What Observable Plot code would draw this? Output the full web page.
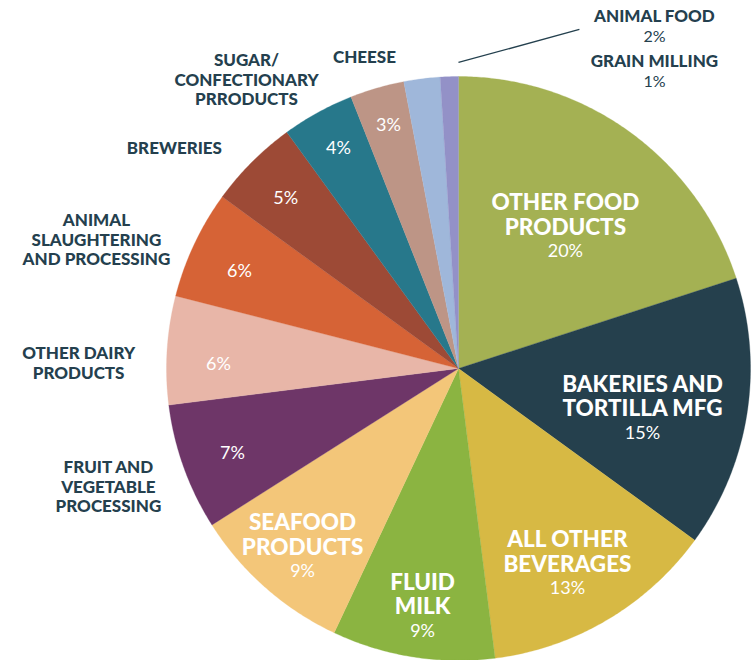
<!DOCTYPE html>
<html>
<head>
<meta charset="utf-8">
<script src="https://cdn.jsdelivr.net/npm/d3@7"></script>
<script src="https://cdn.jsdelivr.net/npm/@observablehq/plot@0.6"></script>
<style>
  html, body { margin: 0; padding: 0; background: #ffffff; }
  #chart svg { display: block; }
</style>
</head>
<body>
<div id="chart"></div>
<script>
// ---- data ----
const categories = [
  "Other Food Products", "Bakeries and Tortilla MFG", "All Other Beverages",
  "Fluid Milk", "Seafood Products", "Fruit and Vegetable Processing",
  "Other Dairy Products", "Animal Slaughtering and Processing", "Breweries",
  "Sugar/Confectionary Prroducts", "Cheese", "Animal Food", "Grain Milling"
];
const shares = [20, 15, 13, 9, 9, 7, 6, 6, 5, 4, 3, 2, 1];
const displayNames = [
  "OTHER FOOD\nPRODUCTS", "BAKERIES AND\nTORTILLA MFG", "ALL OTHER\nBEVERAGES",
  "FLUID\nMILK", "SEAFOOD\nPRODUCTS", "FRUIT AND\nVEGETABLE\nPROCESSING",
  "OTHER DAIRY\nPRODUCTS", "ANIMAL\nSLAUGHTERING\nAND PROCESSING", "BREWERIES",
  "SUGAR/\nCONFECTIONARY\nPRRODUCTS", "CHEESE", "ANIMAL FOOD", "GRAIN MILLING"
];
const colors = [
  "#a4b153", "#25404d", "#d7b944", "#8bb441", "#f3c679", "#6e3668",
  "#e8b6a8", "#d66336", "#9d4a36", "#27788b", "#bd9586", "#9fb7da", "#9391c7"
];

// ---- layout (in pie-radius units, centre = 0,0) ----
const pctPos = [
  [0.366, 0.404], [0.630, -0.219], [0.373, -0.750], [-0.123, -0.897],
  [-0.534, -0.692], [-0.774, -0.288], [-0.822, 0.017], [-0.750, 0.336],
  [-0.592, 0.586], [-0.411, 0.757], [-0.240, 0.836], [0.671, 1.137], [0.671, 0.983]
];
const outerNamePos = {
  5: [-1.199, -0.404], 6: [-1.301, 0.019], 7: [-1.240, 0.442], 8: [-0.973, 0.757],
  9: [-0.726, 0.990], 10: [-0.322, 1.068], 11: [0.671, 1.207], 12: [0.671, 1.053]
};
const leader = [[0.0, 1.048], [0.414, 1.161]];

// ---- slices via d3.pie (clockwise from 12 o'clock) ----
const arcs = d3.pie().sort(null).value(d => d)(shares);
const slicePts = [];
arcs.forEach((a, i) => {
  const name = categories[i];
  slicePts.push({name, x: 0, y: 0});
  const n = Math.max(4, Math.ceil((a.endAngle - a.startAngle) / (Math.PI / 360)));
  for (let k = 0; k <= n; k++) {
    const t = a.startAngle + (a.endAngle - a.startAngle) * k / n;
    slicePts.push({name, x: Math.sin(t), y: Math.cos(t)});
  }
  slicePts.push({name, x: 0, y: 0});
});

const pctRows = shares.map((s, i) => ({
  i, label: s + "%", x: pctPos[i][0], y: pctPos[i][1], outside: i >= 11
}));
const innerNames = displayNames.slice(0, 5).map((t, i) => ({t, x: pctPos[i][0], y: pctPos[i][1]}));
const outerNames = Object.entries(outerNamePos).map(([i, p]) => ({t: displayNames[+i], x: p[0], y: p[1]}));

const dark = "#24404e";
const chart = Plot.plot({
  width: 751,
  height: 660,
  margin: 0,
  x: {domain: [-458 / 292, 293 / 292], axis: null},
  y: {domain: [-1, 368 / 292], axis: null},
  color: {domain: categories, range: colors},
  style: {fontFamily: "Lato, sans-serif", background: "#ffffff"},
  marks: [
    Plot.line(slicePts, {x: "x", y: "y", z: "name", fill: "name", stroke: "name", strokeWidth: 0.3}),
    Plot.link([leader], {x1: d => d[0][0], y1: d => d[0][1], x2: d => d[1][0], y2: d => d[1][1], stroke: dark, strokeWidth: 1.3}),
    Plot.text(innerNames, {x: "x", y: "y", text: "t", fill: "white", fontSize: 22.5, fontWeight: 900,
      lineAnchor: "bottom", lineHeight: 1.1, dy: -16, textAnchor: "middle"}),
    Plot.text(pctRows.filter(d => !d.outside), {x: "x", y: "y", text: "label", fill: "white", fontSize: 18,
      fontWeight: 400, textAnchor: "middle", lineAnchor: "middle", dy: 1}),
    Plot.text(pctRows.filter(d => d.outside), {x: "x", y: "y", text: "label", fill: dark, fontSize: 16,
      fontWeight: 400, textAnchor: "middle", lineAnchor: "middle"}),
    Plot.text(outerNames, {x: "x", y: "y", text: "t", fill: dark, fontSize: 17, fontWeight: 900,
      lineAnchor: "middle", lineHeight: 1.15, textAnchor: "middle"})
  ]
});
document.getElementById("chart").appendChild(chart);
</script>
</body>
</html>
